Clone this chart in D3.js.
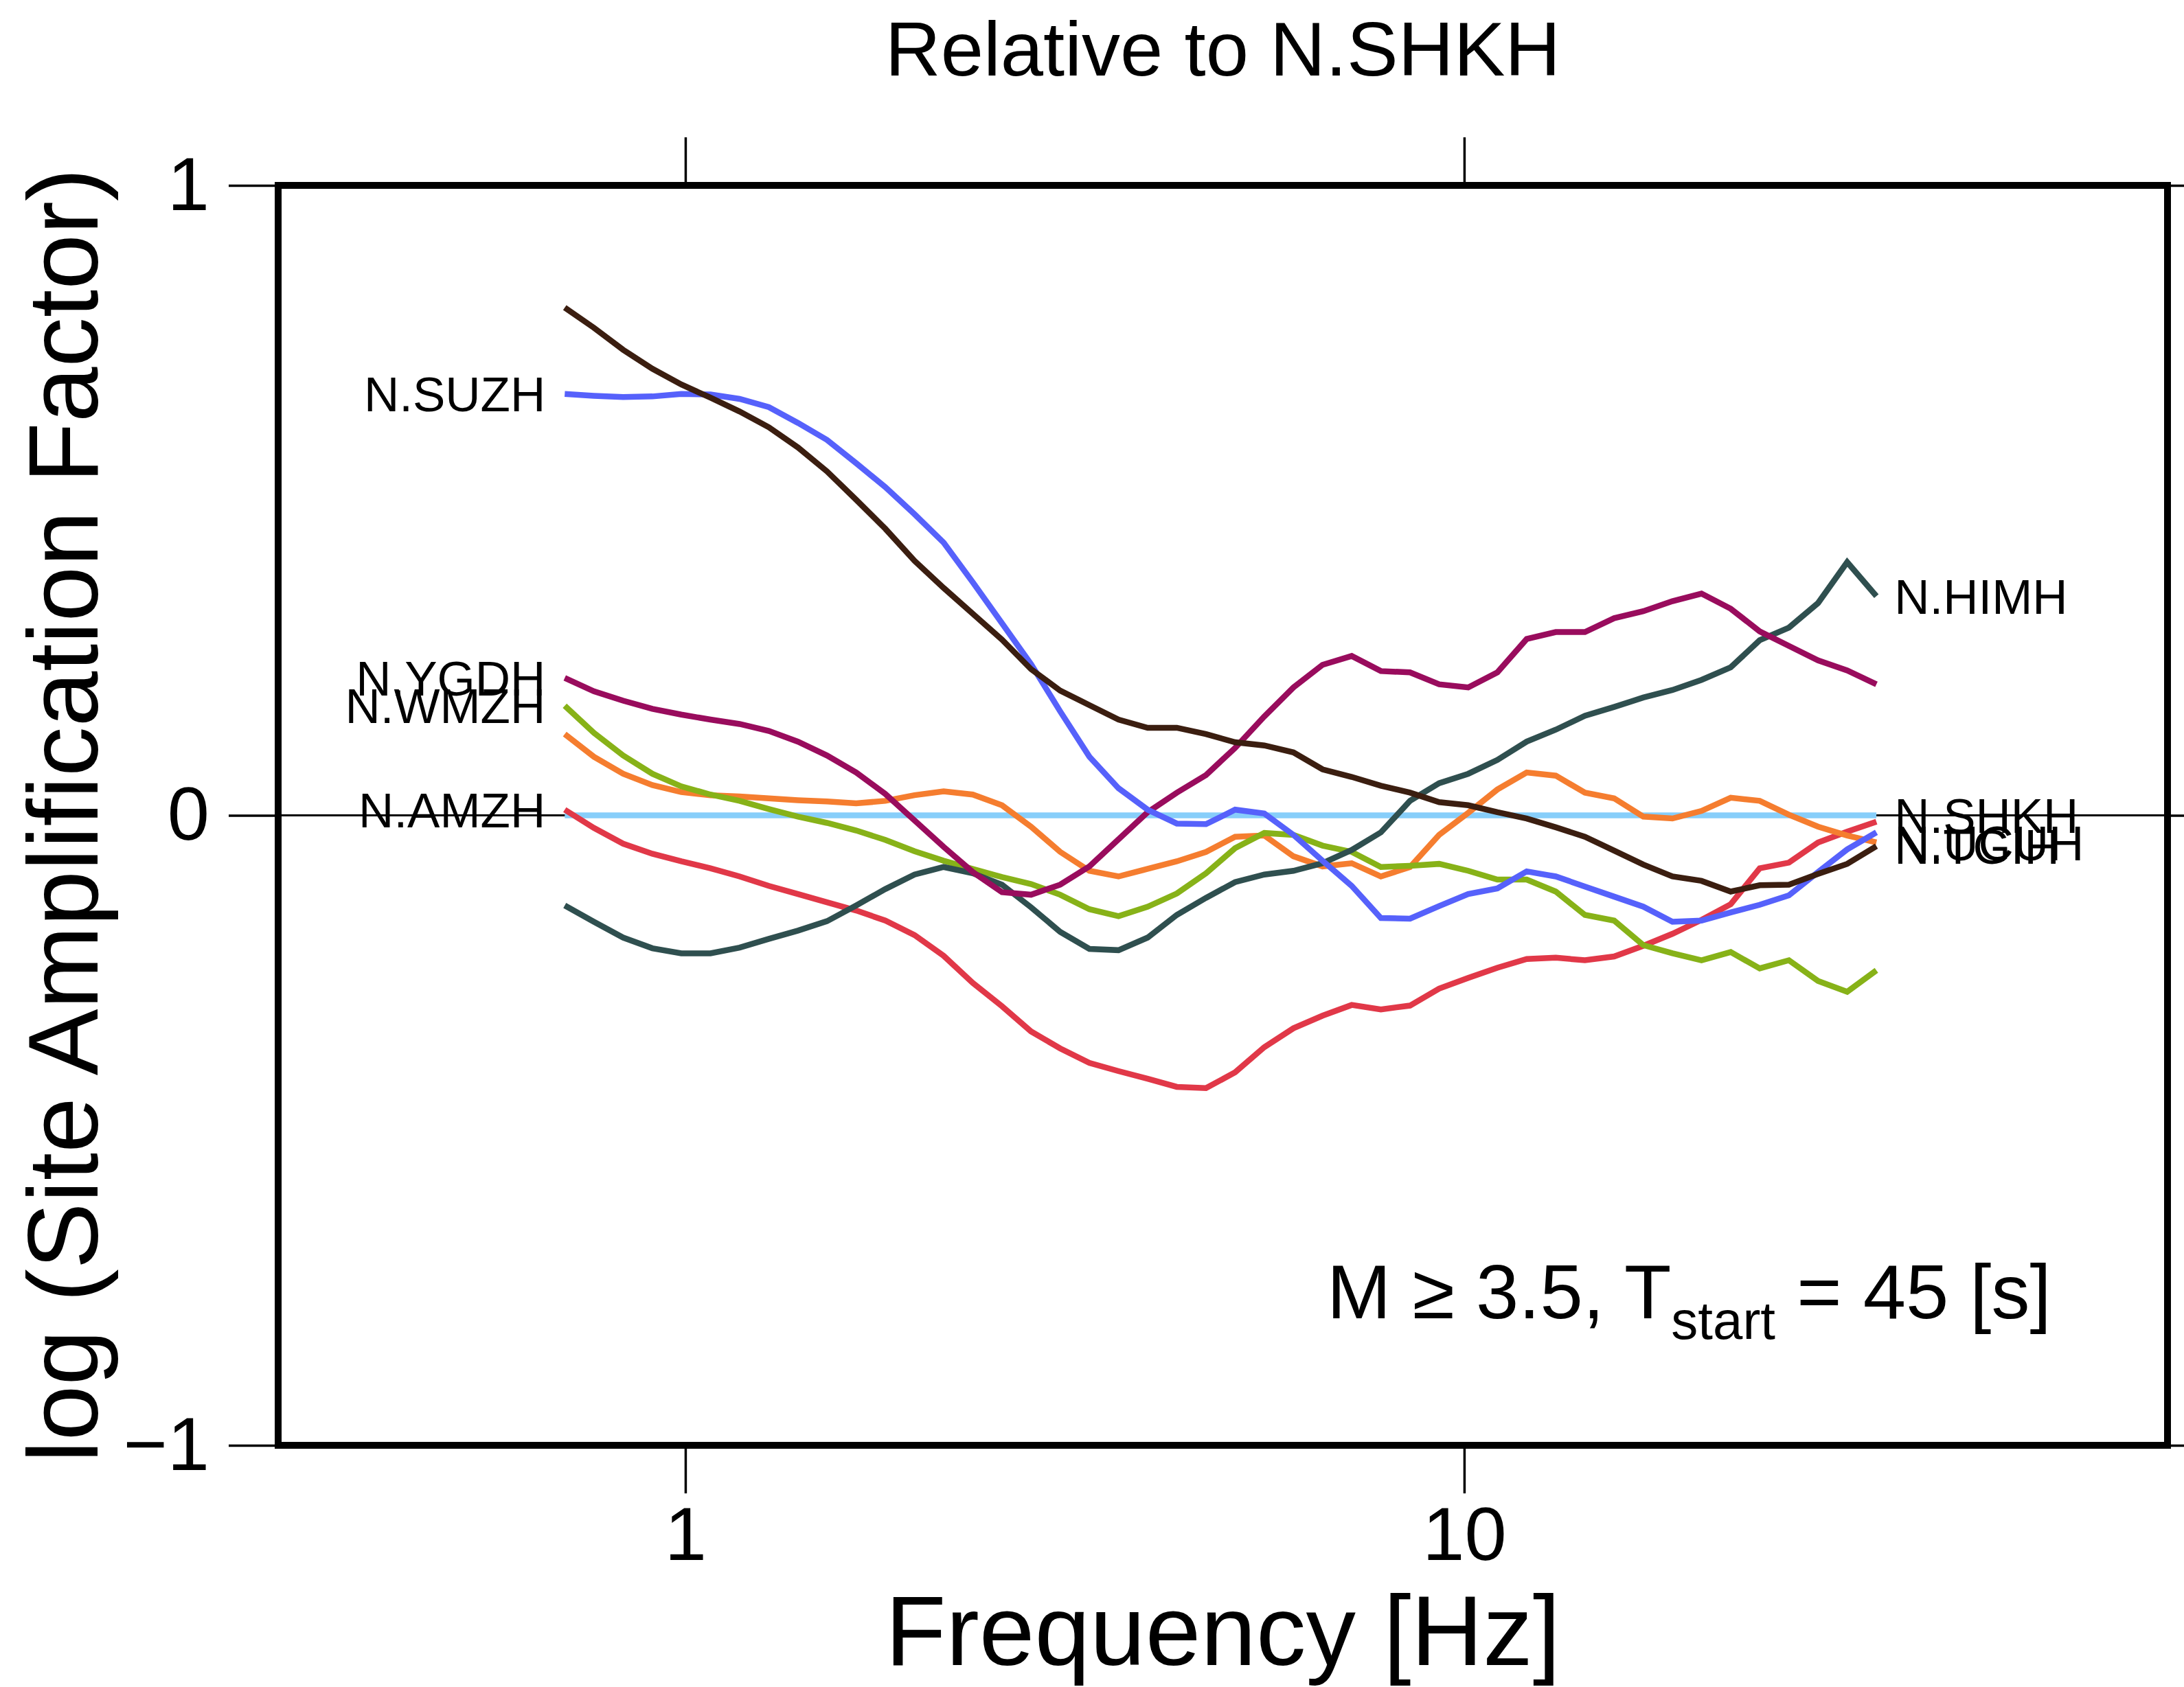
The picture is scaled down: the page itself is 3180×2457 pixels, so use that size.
<!DOCTYPE html>
<html>
<head>
<meta charset="utf-8">
<script src="https://cdn.jsdelivr.net/npm/d3@7"></script>
<style>
  body { margin: 0; background: #fff; }
  text { font-family: "Liberation Sans", Arial, Helvetica, sans-serif; fill: #000; }
</style>
</head>
<body>
<script>
const width = 3180;
const height = 2457;

// frequencies [Hz]
const freqs = [0.700, 0.763, 0.832, 0.907, 0.988, 1.077, 1.174, 1.280, 1.395, 1.520,
  1.657, 1.806, 1.969, 2.146, 2.339, 2.550, 2.779, 3.029, 3.302, 3.599,
  3.923, 4.276, 4.661, 5.080, 5.538, 6.036, 6.579, 7.171, 7.817, 8.520,
  9.287, 10.12, 11.03, 12.03, 13.11, 14.29, 15.58, 16.98, 18.51, 20.17,
  21.99, 23.96, 26.12, 28.47, 31.03, 33.83];

// log site amplification relative to N.SHKH
const shkh = [0, 0, 0, 0, 0, 0, 0, 0, 0, 0, 0, 0, 0, 0, 0, 0, 0, 0, 0, 0, 0, 0, 0,
  0, 0, 0, 0, 0, 0, 0, 0, 0, 0, 0, 0, 0, 0, 0, 0, 0, 0, 0, 0, 0, 0, 0];
const amzh = [0.009, -0.020, -0.045, -0.061, -0.073, -0.084, -0.097, -0.112, -0.125, -0.138,
  -0.151, -0.167, -0.190, -0.223, -0.266, -0.303, -0.343, -0.370, -0.393, -0.406,
  -0.418, -0.431, -0.433, -0.408, -0.368, -0.338, -0.318, -0.301, -0.308, -0.302,
  -0.275, -0.258, -0.242, -0.228, -0.226, -0.230, -0.224, -0.207, -0.188, -0.166,
  -0.141, -0.084, -0.075, -0.043, -0.026, -0.010];
const orangeSta = [0.129, 0.093, 0.066, 0.048, 0.037, 0.032, 0.030, 0.027, 0.024, 0.022,
  0.019, 0.023, 0.032, 0.038, 0.033, 0.016, -0.018, -0.058, -0.088, -0.097,
  -0.085, -0.073, -0.058, -0.034, -0.032, -0.065, -0.081, -0.076, -0.097, -0.082,
  -0.031, 0.004, 0.041, 0.068, 0.063, 0.036, 0.027, -0.002, -0.005, 0.007,
  0.028, 0.023, 0.001, -0.018, -0.032, -0.043];
const wmzh = [0.174, 0.131, 0.095, 0.066, 0.046, 0.033, 0.023, 0.010, -0.002, -0.012,
  -0.024, -0.039, -0.057, -0.072, -0.085, -0.098, -0.109, -0.126, -0.149, -0.160,
  -0.145, -0.124, -0.092, -0.052, -0.028, -0.031, -0.048, -0.058, -0.082, -0.080,
  -0.077, -0.088, -0.102, -0.102, -0.121, -0.158, -0.167, -0.206, -0.219, -0.230,
  -0.217, -0.243, -0.230, -0.263, -0.280, -0.246];
const himh = [-0.143, -0.169, -0.194, -0.211, -0.219, -0.219, -0.210, -0.196, -0.183, -0.168,
  -0.143, -0.117, -0.094, -0.082, -0.092, -0.110, -0.146, -0.185, -0.212, -0.214,
  -0.194, -0.158, -0.131, -0.106, -0.094, -0.088, -0.076, -0.055, -0.027, 0.023,
  0.051, 0.066, 0.088, 0.117, 0.136, 0.158, 0.172, 0.187, 0.199, 0.215,
  0.235, 0.278, 0.298, 0.337, 0.402, 0.348];
const ygdh = [0.218, 0.197, 0.182, 0.169, 0.160, 0.152, 0.145, 0.134, 0.117, 0.095,
  0.068, 0.034, -0.008, -0.050, -0.090, -0.122, -0.126, -0.110, -0.081, -0.038,
  0.005, 0.036, 0.064, 0.107, 0.157, 0.203, 0.239, 0.253, 0.229, 0.227,
  0.208, 0.203, 0.227, 0.280, 0.291, 0.291, 0.313, 0.324, 0.340, 0.352,
  0.328, 0.292, 0.269, 0.246, 0.230, 0.208];
const suzh = [0.669, 0.666, 0.664, 0.665, 0.669, 0.668, 0.661, 0.648, 0.623, 0.596,
  0.559, 0.521, 0.478, 0.433, 0.370, 0.305, 0.240, 0.165, 0.093, 0.043,
  0.009, -0.013, -0.014, 0.009, 0.003, -0.031, -0.072, -0.112, -0.163, -0.164,
  -0.144, -0.125, -0.116, -0.089, -0.097, -0.113, -0.129, -0.145, -0.169, -0.167,
  -0.154, -0.142, -0.127, -0.090, -0.054, -0.027];
const brownSta = [0.806, 0.774, 0.739, 0.709, 0.684, 0.663, 0.641, 0.616, 0.584, 0.546,
  0.501, 0.455, 0.404, 0.361, 0.320, 0.279, 0.232, 0.198, 0.175, 0.152,
  0.139, 0.139, 0.129, 0.116, 0.111, 0.100, 0.073, 0.061, 0.047, 0.036,
  0.021, 0.016, 0.005, -0.005, -0.019, -0.034, -0.056, -0.078, -0.097, -0.104,
  -0.121, -0.111, -0.110, -0.093, -0.077, -0.049];

const xTicks = [1, 10];
const yTicks = [-1, 0, 1];

// station, values, colour, label side
const stations = [
  { name: "N.SHKH", values: shkh, color: "#87cefa", side: "right" },
  { name: "N.AMZH", values: amzh, color: "#e13848", side: "left" },
  { name: "N.UCUH", values: orangeSta, color: "#f57d2f", side: "right" },
  { name: "N.WMZH", values: wmzh, color: "#87b218", side: "left" },
  { name: "N.HIMH", values: himh, color: "#2f4f4f", side: "right" },
  { name: "N.YGDH", values: ygdh, color: "#990c5d", side: "left" },
  { name: "N.SUZH", values: suzh, color: "#5661fb", side: "left" },
  { name: "N.TGIH", values: brownSta, color: "#3b1e10", side: "right" }
];

const margin = { top: 270, right: 24, bottom: 352, left: 405 };
const plotW = width - margin.left - margin.right;
const plotH = height - margin.top - margin.bottom;

const svg = d3.select("body")
  .append("svg")
  .attr("width", width)
  .attr("height", height);

const g = svg.append("g")
  .attr("transform", `translate(${margin.left},${margin.top})`);

const x = d3.scaleLog().domain([0.3, 80]).range([0, plotW]);
const y = d3.scaleLinear().domain([-1, 1]).range([plotH, 0]);

// axes (ticks outside the frame)
function styleAxis(sel) {
  sel.select(".domain").remove();
  sel.selectAll(".tick line").attr("stroke", "#000").attr("stroke-width", 3.5);
  sel.selectAll("text").attr("font-size", 110).attr("fill", "#000")
    .style("font-family", '"Liberation Sans", Arial, Helvetica, sans-serif');
}

g.append("g")
  .attr("transform", `translate(0,${plotH})`)
  .call(d3.axisBottom(x).tickValues(xTicks).tickFormat(d3.format("d")).tickSize(70).tickPadding(19))
  .call(styleAxis);

g.append("g")
  .call(d3.axisTop(x).tickValues(xTicks).tickFormat("").tickSize(70))
  .call(styleAxis);

g.append("g")
  .call(d3.axisLeft(y).tickValues(yTicks).tickFormat(d3.format("d")).tickSize(72).tickPadding(28))
  .call(styleAxis);

g.append("g")
  .attr("transform", `translate(${plotW},0)`)
  .call(d3.axisRight(y).tickValues(yTicks).tickFormat("").tickSize(72))
  .call(styleAxis);

// zero line
g.append("line")
  .attr("x1", 0).attr("x2", plotW)
  .attr("y1", y(0)).attr("y2", y(0))
  .attr("stroke", "#000").attr("stroke-width", 3);

const line = d3.line()
  .x((d, i) => x(freqs[i]))
  .y(d => y(d));

g.selectAll(".station")
  .data(stations)
  .enter()
  .append("path")
  .attr("class", "station")
  .attr("d", d => line(d.values))
  .attr("fill", "none")
  .attr("stroke", d => d.color)
  .attr("stroke-width", 8.5)
  .attr("stroke-linejoin", "miter");

// station names at line ends
g.selectAll(".label")
  .data(stations)
  .enter()
  .append("text")
  .attr("class", "label")
  .attr("x", d => d.side === "left" ? x(freqs[0]) - 28 : x(freqs[freqs.length - 1]) + 26)
  .attr("y", d => d.side === "left" ? y(d.values[0]) : y(d.values[d.values.length - 1]))
  .attr("dy", "0.36em")
  .attr("text-anchor", d => d.side === "left" ? "end" : "start")
  .attr("font-size", 71)
  .text(d => d.name);

// frame
g.append("rect")
  .attr("width", plotW)
  .attr("height", plotH)
  .attr("fill", "none")
  .attr("stroke", "#000")
  .attr("stroke-width", 10);

// annotation
const note = g.append("text")
  .attr("x", 1932 - margin.left)
  .attr("y", 1920 - margin.top)
  .attr("font-size", 112);
note.append("tspan").text("M \u2265 3.5, T");
note.append("tspan").attr("font-size", 78).attr("dy", 30).text("start");
note.append("tspan").attr("dy", -30).text(" = 45 [s]");

// titles
svg.append("text")
  .attr("x", margin.left + plotW / 2)
  .attr("y", 110)
  .attr("text-anchor", "middle")
  .attr("font-size", 112)
  .text("Relative to N.SHKH");

svg.append("text")
  .attr("x", margin.left + plotW / 2)
  .attr("y", 2425)
  .attr("text-anchor", "middle")
  .attr("font-size", 145)
  .text("Frequency [Hz]");

svg.append("text")
  .attr("transform", "rotate(-90)")
  .attr("x", -(margin.top + plotH / 2))
  .attr("y", 142)
  .attr("text-anchor", "middle")
  .attr("font-size", 145)
  .text("log (Site Amplification Factor)");
</script>
</body>
</html>
